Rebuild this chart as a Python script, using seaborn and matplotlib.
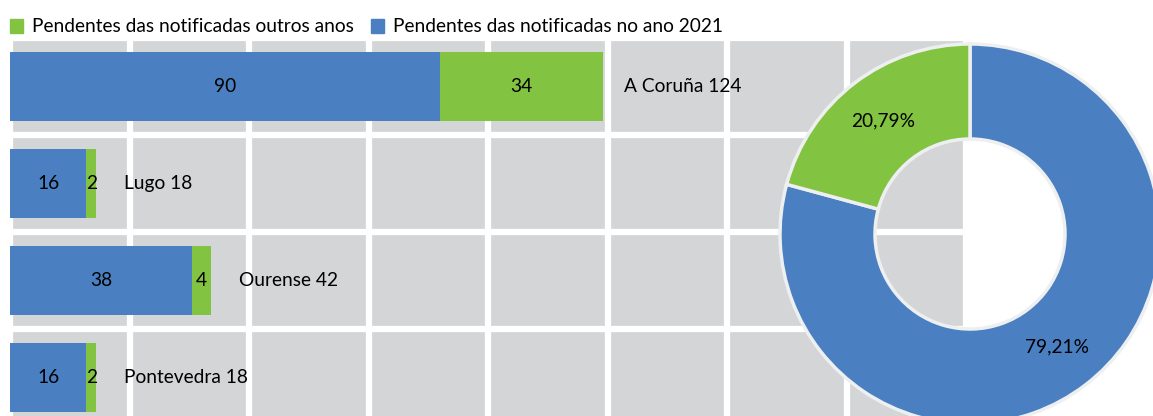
import matplotlib.pyplot as plt
from matplotlib.patches import Patch
import seaborn as sns
import pandas as pd

# data
provinces = ["A Coruña", "Lugo", "Ourense", "Pontevedra"]
pend_2021 = [90, 16, 38, 16]
pend_other = [34, 2, 4, 2]
donut_labels = ["Pendentes das notificadas no ano 2021", "Pendentes das notificadas outros anos"]
donut_pct = [79.21, 20.79]

BLUE = "#4a7fc1"
GREEN = "#82c341"
GRAY = "#d4d5d7"

sns.set_style("white")
plt.rcParams["font.family"] = ["Lato", "DejaVu Sans"]
plt.rcParams["text.color"] = "black"

df = pd.DataFrame({"province": provinces, "y2021": pend_2021, "other": pend_other})
df["total"] = df["y2021"] + df["other"]

FS = 13.8

fig = plt.figure(figsize=(11.53, 4.16), dpi=100)

# bar panel (extends slightly below the figure like the cropped original)
ax = fig.add_axes([10 / 1153, 1 - 426 / 416, 956 / 1153, 388 / 416])
ax.set_facecolor(GRAY)
sns.barplot(data=df, x="total", y="province", color=GREEN, width=0.72,
            saturation=1, linewidth=0, ax=ax, zorder=3)
sns.barplot(data=df, x="y2021", y="province", color=BLUE, width=0.72,
            saturation=1, linewidth=0, ax=ax, zorder=3)

ax.set_xlim(0, 200)
ax.set_ylim(3.5, -0.5)
ax.set_xticks(range(0, 201, 25))
ax.set_yticks([-0.5, 0.5, 1.5, 2.5, 3.5], minor=True)
ax.set_yticks([])
ax.grid(axis="x", color="white", lw=4.5, zorder=1)
ax.grid(axis="y", which="minor", color="white", lw=4.5, zorder=1)
ax.tick_params(which="both", length=0, labelbottom=False, labelleft=False)
ax.set_xlabel("")
ax.set_ylabel("")
for s in ax.spines.values():
    s.set_visible(False)

# value labels
for i, row in df.iterrows():
    ax.text(row["y2021"] / 2, i, str(row["y2021"]), ha="center", va="center",
            fontsize=FS, zorder=5)
    ax.text(row["y2021"] + row["other"] / 2, i, str(row["other"]), ha="center",
            va="center", fontsize=FS, zorder=5)
    ax.annotate(f"{row['province']} {row['total']}", (row["total"], i),
                xytext=(21 if i == 0 else 28, 0), textcoords="offset pixels",
                ha="left", va="center", fontsize=FS, zorder=2)

# legend
handles = [Patch(color=GREEN, label="Pendentes das notificadas outros anos"),
           Patch(color=BLUE, label="Pendentes das notificadas no ano 2021")]
fig.legend(handles=handles, loc="center left", bbox_to_anchor=(2 / 1153, 1 - 27 / 416),
           ncol=2, frameon=False, fontsize=FS, handlelength=0.7, handleheight=0.7,
           handletextpad=0.45, columnspacing=0.9, borderaxespad=0)

# donut
pax = fig.add_axes([780 / 1153, 1 - 424 / 416, 380 / 1153, 380 / 416])
wedges, _, autotexts = pax.pie(
    donut_pct, colors=[BLUE, GREEN], startangle=90, counterclock=False,
    autopct=lambda p: f"{p:.2f}%".replace(".", ","), pctdistance=0.75,
    wedgeprops=dict(width=0.5, edgecolor="#eeeff0", linewidth=2.5),
    textprops=dict(fontsize=FS))
pax.set_xlim(-1, 1)
pax.set_ylim(-1, 1)
pax.set_aspect("equal")
pax.patch.set_alpha(0)

fig.savefig("out.png", dpi=100)
